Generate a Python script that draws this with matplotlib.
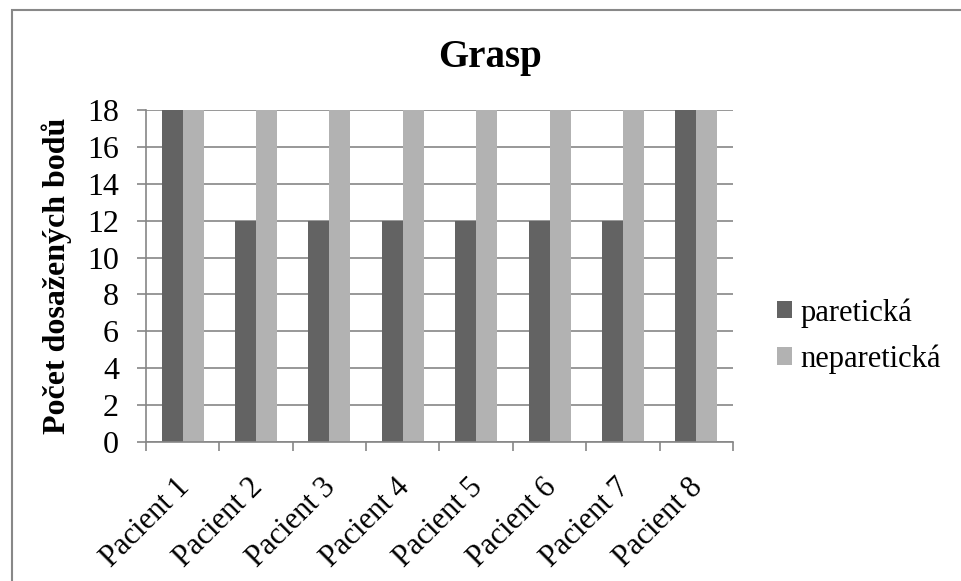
import matplotlib
matplotlib.use("Agg")
import matplotlib.pyplot as plt
from matplotlib.patches import Rectangle
from matplotlib.transforms import ScaledTranslation

# data
patients = [f"Pacient {i}" for i in range(1, 9)]
paretic = [18, 12, 12, 12, 12, 12, 12, 18]
nonparetic = [18, 18, 18, 18, 18, 18, 18, 18]
series_names = ["paretická", "neparetická"]

plt.rcParams["font.family"] = ["Liberation Serif", "DejaVu Serif"]

W, H = 962, 581
fig = plt.figure(figsize=(W / 100, H / 100), dpi=100)
ax = fig.add_axes([146 / W, 1 - 442 / H, (733 - 146) / W, (442 - 110) / H])

dark, light, grid = "#636363", "#b2b2b2", "#868686"
bw = 0.286
x = list(range(len(patients)))
ax.bar([i - bw / 2 for i in x], paretic, width=bw, color=dark, label=series_names[0])
ax.bar([i + bw / 2 for i in x], nonparetic, width=bw, color=light, label=series_names[1])

ax.set_xlim(-0.5, len(patients) - 0.5)
ax.set_ylim(0, 18)
ax.set_yticks(range(0, 19, 2))
ax.yaxis.grid(True, color=grid, linewidth=1.2)
ax.set_axisbelow(True)
ax.tick_params(axis="y", length=6.5, color=grid, width=1.2, labelsize=23, pad=13)

ax.set_xticks(x)
ax.set_xticklabels(patients, rotation=45, ha="right", rotation_mode="anchor", fontsize=22)
ax.tick_params(axis="x", which="major", length=0, pad=22)
shift = ScaledTranslation(-8 / 100, 0, fig.dpi_scale_trans)
for lab in ax.get_xticklabels():
    lab.set_transform(lab.get_transform() + shift)
ax.set_xticks([i - 0.5 for i in range(len(patients) + 1)], minor=True)
ax.tick_params(axis="x", which="minor", length=6.5, color=grid, width=1.2)

for side in ["top", "right"]:
    ax.spines[side].set_visible(False)
for side in ["left", "bottom"]:
    ax.spines[side].set_color(grid)
    ax.spines[side].set_linewidth(1.2)

ax.set_ylabel("Počet dosažených bodů", fontsize=23, fontweight="bold")
ax.yaxis.set_label_coords(-0.126, 0.5)

fig.text(490 / W, 1 - 67 / H, "Grasp", ha="center", va="baseline", fontsize=28, fontweight="bold")

fig.legend(loc="center left", bbox_to_anchor=(765 / W, 1 - 336 / H), frameon=False,
           fontsize=22, handlelength=0.5, handleheight=0.5, handletextpad=0.25,
           labelspacing=0.55, borderaxespad=0)

fig.patches.append(Rectangle((12 / W, -0.1), 1.2, 1 - 10 / H + 0.1, transform=fig.transFigure,
                             fill=False, edgecolor="#888888", linewidth=1.5))

fig.savefig("out.png", dpi=100)
